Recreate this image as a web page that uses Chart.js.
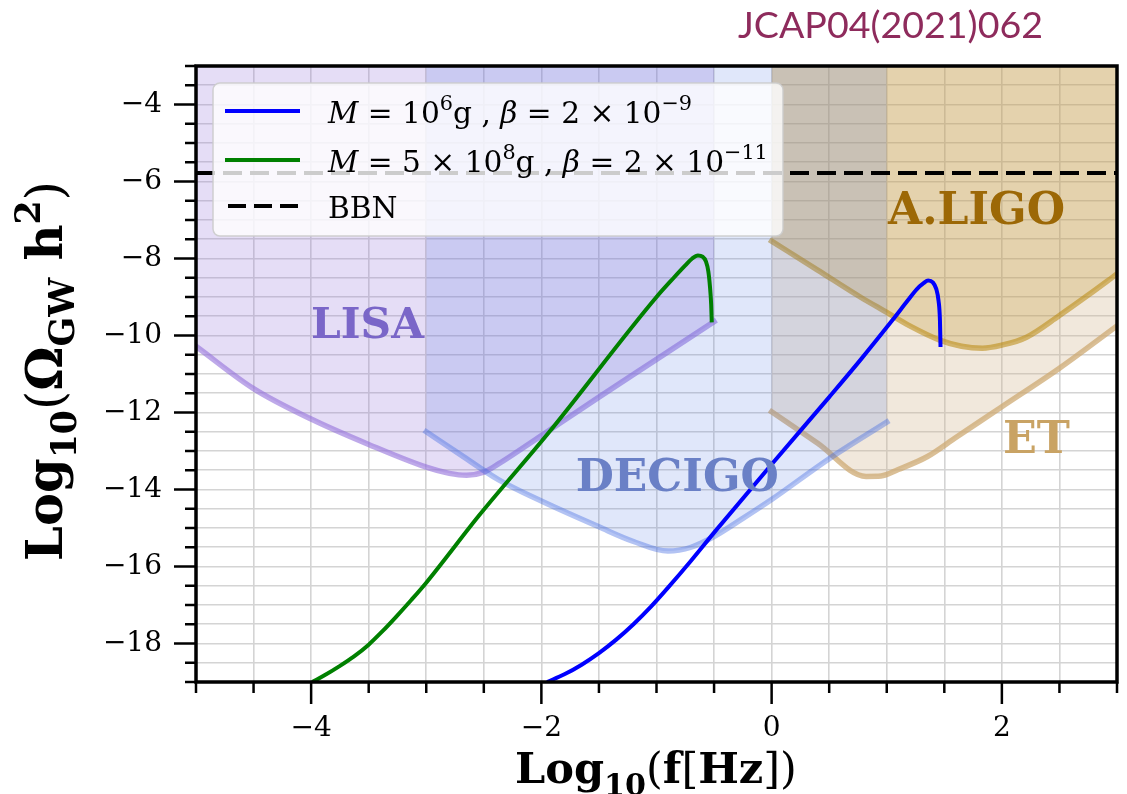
<!DOCTYPE html>
<html>
<head>
<meta charset="utf-8">
<script src="https://cdn.jsdelivr.net/npm/chart.js@4.4.1/dist/chart.umd.min.js"></script>
<style>
  html, body { margin: 0; padding: 0; background: #fff; overflow: hidden; }
  #chart { display: block; }
</style>
</head>
<body>
<canvas id="chart" width="1127" height="794"></canvas>
<script>
// values: x = log10(f/Hz), y = log10(Omega_GW h^2)
const lisaX = [-5, -4.5, -4, -3.5, -3, -2.8, -2.65, -2.5, -2.37, -2.2, -2, -1.5, -1, -0.5];
const lisaY = [-10.28, -11.38, -12.17, -12.83, -13.42, -13.58, -13.63, -13.55, -13.33, -13.0, -12.6, -11.6, -10.62, -9.64];

const decigoX = [-3, -2.7, -2.37, -2, -1.5, -1.2, -0.9, -0.7, -0.5, -0.25, 0, 0.5, 1];
const decigoY = [-12.5, -13.1, -13.75, -14.3, -14.97, -15.35, -15.6, -15.5, -15.22, -14.75, -14.26, -13.2, -12.25];

const etX = [0, 0.4, 0.82, 0.95, 1.1, 1.35, 1.6, 2.0, 2.5, 3.0];
const etY = [-11.98, -12.8, -13.66, -13.65, -13.48, -13.15, -12.65, -11.85, -10.85, -9.75];

const ligoX = [0, 0.4, 0.77, 1.0, 1.2, 1.46, 1.65, 1.83, 2.0, 2.21, 2.5, 2.75, 3.0];
const ligoY = [-7.55, -8.3, -9.0, -9.4, -9.75, -10.12, -10.28, -10.33, -10.25, -10.05, -9.48, -8.95, -8.4];

const blueX = [-1.95, -1.8, -1.65, -1.5, -1.35, -1.2, -1.05, -0.9, -0.7, -0.5, 0.01, 0.5, 0.77, 1.05, 1.18, 1.26, 1.32, 1.36, 1.4, 1.43, 1.45, 1.462, 1.467];
const blueY = [-19.0, -18.8, -18.55, -18.25, -17.9, -17.5, -17.05, -16.55, -15.85, -15.12, -13.31, -11.6, -10.64, -9.6, -9.1, -8.8, -8.64, -8.57, -8.62, -8.79, -9.1, -9.6, -10.3];

const greenX = [-3.99, -3.88, -3.76, -3.63, -3.5, -3.38, -3.26, -3.13, -3.0, -2.54, -1.93, -1.0, -0.85, -0.75, -0.69, -0.64, -0.6, -0.57, -0.55, -0.535, -0.525, -0.52];
const greenY = [-19.0, -18.82, -18.6, -18.34, -18.03, -17.68, -17.3, -16.87, -16.42, -14.67, -12.5, -9.0, -8.5, -8.18, -8.0, -7.92, -7.95, -8.08, -8.33, -8.75, -9.2, -9.66];

const bbnLevel = -5.78;
const xRange = [-5, 3];
const yRange = [-19, -3];

// region labels: name, x, y (data coords)
const regionNames = ['LISA', 'DECIGO', 'A.LIGO', 'ET'];
const regionX = [-3.51, -0.82, 1.78, 2.30];
const regionY = [-9.66, -13.64, -6.69, -12.63];
const regionColors = ['#7a66c8', '#6a80c6', '#9c6806', '#c9a364'];
const regionWidths = [113, 203, 177, 67];

const SERIF = '"DejaVu Serif", serif';

const pts = (xs, ys) => xs.map((x, i) => ({ x: x, y: ys[i] }));

function fontOf(r, size) {
  return (r.i ? 'italic ' : '') + (r.b ? 'bold ' : '') + (size * (r.s || 1)).toFixed(2) + 'px ' + (r.f || SERIF);
}
function runsWidth(ctx, runs, size) {
  let w = 0;
  runs.forEach(r => { ctx.font = fontOf(r, size); w += ctx.measureText(r.t).width; });
  return w;
}
function drawRuns(ctx, runs, x, y, size) {
  ctx.textAlign = 'left';
  ctx.textBaseline = 'alphabetic';
  runs.forEach(r => {
    ctx.font = fontOf(r, size);
    ctx.fillText(r.t, x, y + (r.dy || 0) * size);
    x += ctx.measureText(r.t).width;
  });
}
function fitSize(ctx, runs, width) {
  return 100 * width / runsWidth(ctx, runs, 100);
}

const legendRows = [
  [{t: 'M', i: 1}, {t: ' = 10'}, {t: '6', s: 0.7, dy: -0.42}, {t: 'g , '}, {t: 'β', i: 1}, {t: ' = 2 × 10'}, {t: '−9', s: 0.7, dy: -0.42}],
  [{t: 'M', i: 1}, {t: ' = 5 × 10'}, {t: '8', s: 0.7, dy: -0.42}, {t: 'g , '}, {t: 'β', i: 1}, {t: ' = 2 × 10'}, {t: '−11', s: 0.7, dy: -0.42}],
  [{t: 'BBN'}]
];
const xTitle = [{t: 'Log', b: 1}, {t: '10', b: 1, s: 0.7, dy: 0.28}, {t: '('}, {t: 'f', b: 1}, {t: '['}, {t: 'Hz', b: 1}, {t: '])'}];
const yTitle = [{t: 'Log', b: 1}, {t: '10', b: 1, s: 0.7, dy: 0.28}, {t: '('}, {t: 'Ω', b: 1}, {t: 'GW', b: 1, s: 0.7, dy: 0.25}, {t: ' h', b: 1}, {t: '2', b: 1, s: 0.7, dy: -0.45}, {t: ')'}];

const overlay = {
  id: 'overlay',
  afterDatasetsDraw(chart) {
    const ctx = chart.ctx, xs = chart.scales.x, ys = chart.scales.y;
    ctx.save();
    // detector names
    regionNames.forEach((name, i) => {
      const runs = [{t: name, b: 1}];
      const size = fitSize(ctx, runs, regionWidths[i]);
      ctx.fillStyle = regionColors[i];
      const px = xs.getPixelForValue(regionX[i]) - regionWidths[i] / 2;
      const py = ys.getPixelForValue(regionY[i]) + size * 0.36;
      drawRuns(ctx, runs, px, py, size);
    });

    // legend box
    const bx = 213, by = 83, bw = 570, bh = 153;
    ctx.beginPath();
    ctx.roundRect(bx, by, bw, bh, 7);
    ctx.fillStyle = 'rgba(255,255,255,0.8)';
    ctx.fill();
    ctx.lineWidth = 1.5;
    ctx.strokeStyle = 'rgba(204,204,204,0.9)';
    ctx.stroke();

    const rowY = [111, 160, 206];
    const handles = [{c: '#0000ff', d: []}, {c: '#008000', d: []}, {c: '#000000', d: [18, 8]}];
    handles.forEach((h, i) => {
      ctx.beginPath();
      ctx.setLineDash(h.d);
      ctx.lineWidth = 4;
      ctx.strokeStyle = h.c;
      ctx.moveTo(h.d.length ? 228 : 225, rowY[i]);
      ctx.lineTo(300, rowY[i]);
      ctx.stroke();
    });
    ctx.setLineDash([]);
    const lsize = fitSize(ctx, legendRows[1], 440);
    ctx.fillStyle = '#000';
    legendRows.forEach((r, i) => drawRuns(ctx, r, 328, rowY[i] + 11.5, lsize));
    ctx.restore();
  },
  afterDraw(chart) {
    const ctx = chart.ctx, a = chart.chartArea, xs = chart.scales.x, ys = chart.scales.y;
    ctx.save();
    // tick marks, outward
    ctx.strokeStyle = '#000';
    ctx.lineWidth = 2.5;
    for (let v = xRange[0]; v <= xRange[1] + 1e-9; v += 0.5) {
      const p = xs.getPixelForValue(v);
      const len = Math.abs(v % 2) < 1e-9 ? 22 : 11;
      ctx.beginPath(); ctx.moveTo(p, a.bottom); ctx.lineTo(p, a.bottom + len); ctx.stroke();
    }
    for (let v = yRange[0]; v <= yRange[1] + 1e-9; v += 0.5) {
      const p = ys.getPixelForValue(v);
      const len = Math.abs(v % 2) < 1e-9 ? 22 : 11;
      ctx.beginPath(); ctx.moveTo(a.left, p); ctx.lineTo(a.left - len, p); ctx.stroke();
    }
    // frame
    ctx.lineWidth = 3.5;
    ctx.strokeRect(a.left, a.top, a.right - a.left, a.bottom - a.top);

    // axis titles
    ctx.fillStyle = '#000';
    let s = fitSize(ctx, xTitle, 282);
    drawRuns(ctx, xTitle, 656 - 141, 783, s);
    s = fitSize(ctx, yTitle, 380);
    ctx.translate(62, 371);
    ctx.rotate(-Math.PI / 2);
    drawRuns(ctx, yTitle, -190, 0, s);
    ctx.restore();

    // corner reference
    ctx.save();
    const ref = [{t: 'JCAP04(2021)062', f: 'Lato, "Open Sans", sans-serif'}];
    const rs = fitSize(ctx, ref, 305);
    ctx.fillStyle = '#8e2b5c';
    drawRuns(ctx, ref, 738, 38, rs);
    ctx.restore();
  }
};

function tickLabel(v) {
  if (Math.abs(v % 2) > 1e-9) return '';
  if (v === xRange[0] || v === xRange[1]) return '';
  return v < 0 ? '\u2212' + Math.abs(v) : String(v);
}

function curve(label, xs, ys, fillColor, lineColor, order) {
  return {
    label: label,
    data: pts(xs, ys),
    showLine: true,
    pointRadius: 0,
    borderWidth: 5.5,
    borderColor: lineColor,
    backgroundColor: fillColor,
    borderCapStyle: 'square',
    cubicInterpolationMode: 'monotone',
    fill: 'end',
    order: order
  };
}

function createChart() {
  new Chart(document.getElementById('chart'), {
    type: 'scatter',
    data: {
      datasets: [
        {
          label: 'M = 10^6 g, beta = 2e-9',
          data: pts(blueX, blueY),
          showLine: true, pointRadius: 0, borderWidth: 4,
          borderColor: '#0000ff', cubicInterpolationMode: 'monotone',
          fill: false, order: 1
        },
        {
          label: 'M = 5e8 g, beta = 2e-11',
          data: pts(greenX, greenY),
          showLine: true, pointRadius: 0, borderWidth: 4,
          borderColor: '#008000', cubicInterpolationMode: 'monotone',
          fill: false, order: 2
        },
        {
          label: 'BBN',
          data: pts(xRange, [bbnLevel, bbnLevel]),
          showLine: true, pointRadius: 0, borderWidth: 4,
          borderColor: '#000000', borderDash: [19, 8],
          fill: false, order: 3
        },
        curve('DECIGO', decigoX, decigoY, 'rgba(65,105,225,0.16)', 'rgba(65,105,225,0.4)', 4),
        curve('A.LIGO', ligoX, ligoY, 'rgba(184,134,11,0.22)', 'rgba(184,134,11,0.55)', 5),
        curve('ET', etX, etY, 'rgba(210,180,140,0.3)', 'rgba(205,170,115,0.75)', 6),
        curve('LISA', lisaX, lisaY, 'rgba(147,112,219,0.24)', 'rgba(147,112,219,0.6)', 7)
      ]
    },
    options: {
      responsive: false,
      animation: false,
      events: [],
      layout: { padding: { top: 66, right: 10, left: 0, bottom: 0 } },
      plugins: { legend: { display: false }, tooltip: { enabled: false } },
      scales: {
        x: {
          type: 'linear', min: xRange[0], max: xRange[1],
          ticks: {
            stepSize: 0.5, autoSkip: false, maxRotation: 0, padding: 30,
            color: '#000', font: { family: SERIF, size: 28 }, callback: tickLabel
          },
          grid: { color: '#d4d4d4', lineWidth: 1.6, drawTicks: false },
          border: { display: false },
          afterFit(s) { s.height = 112; s.paddingLeft = 0; s.paddingRight = 0; }
        },
        y: {
          type: 'linear', min: yRange[0], max: yRange[1],
          ticks: {
            stepSize: 0.5, autoSkip: false, padding: 34,
            color: '#000', font: { family: SERIF, size: 28 }, callback: tickLabel
          },
          grid: { color: '#d4d4d4', lineWidth: 1.6, drawTicks: false },
          border: { display: false },
          afterFit(s) { s.width = 196; s.paddingTop = 0; s.paddingBottom = 0; }
        }
      }
    },
    plugins: [overlay]
  });
}

document.addEventListener('DOMContentLoaded', createChart);
</script>
</body>
</html>
